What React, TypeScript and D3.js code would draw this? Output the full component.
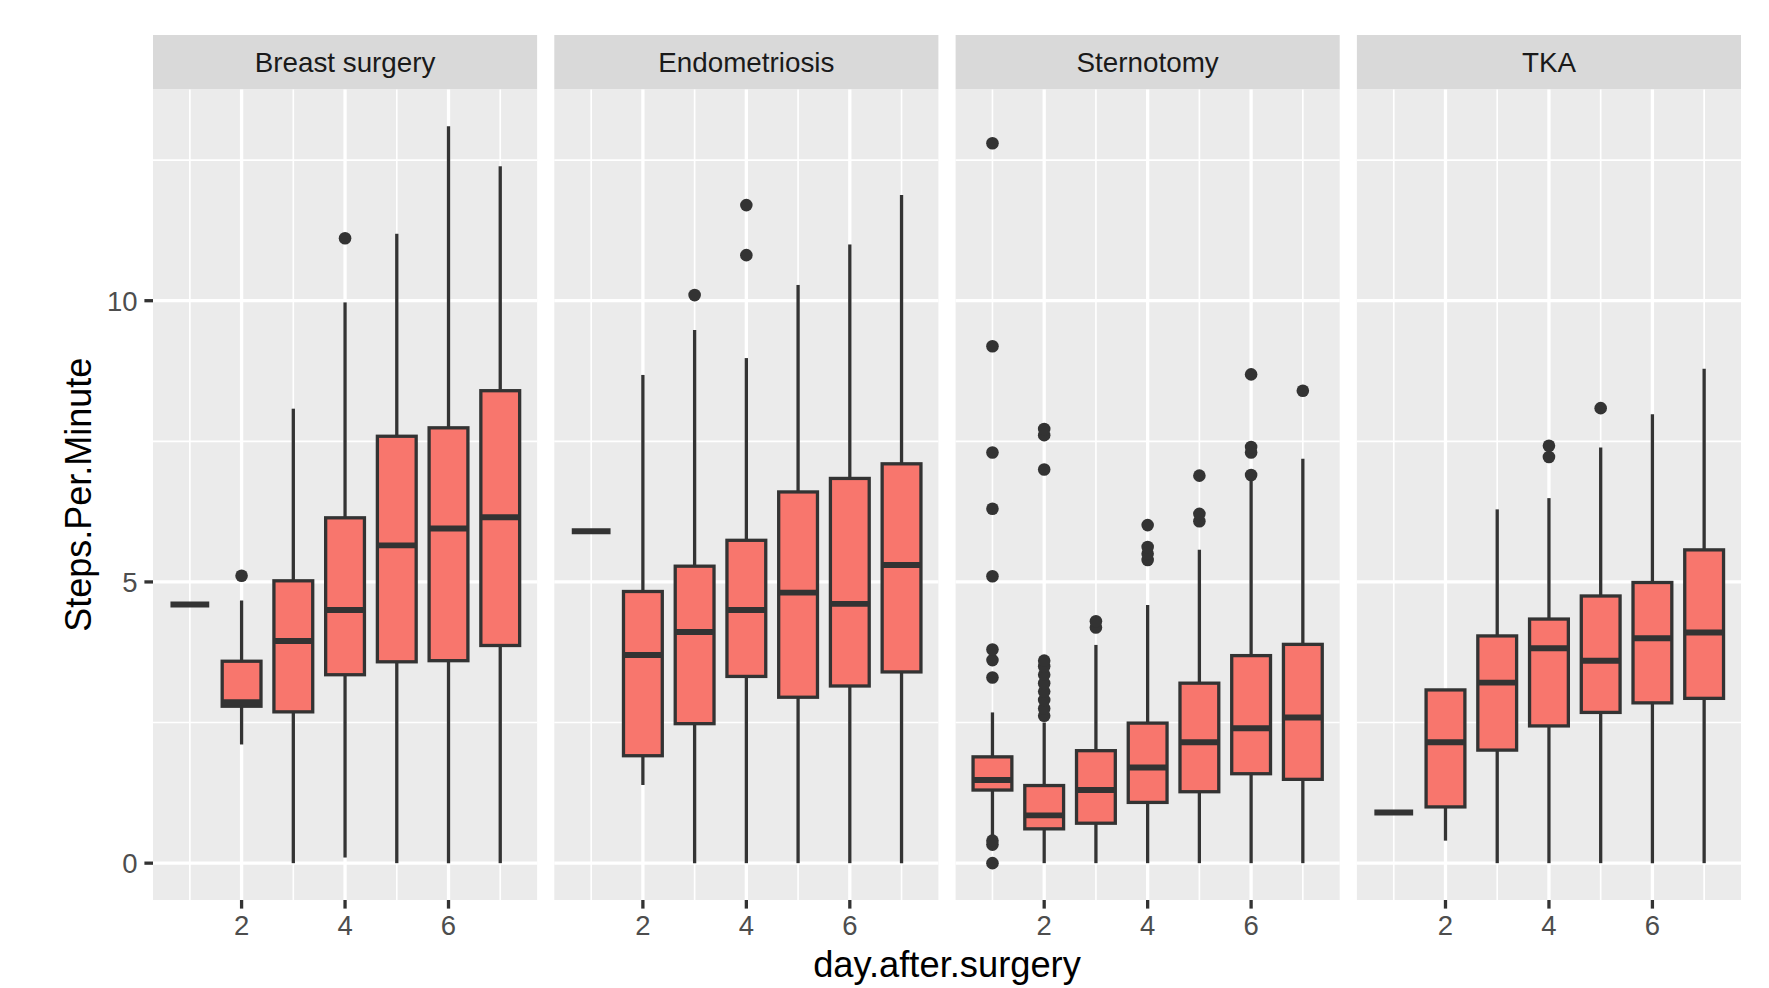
import React from 'react';
import * as d3 from 'd3';

// facet labels and x values
const surgeries = ['Breast surgery', 'Endometriosis', 'Sternotomy', 'TKA'];
const days = [1, 2, 3, 4, 5, 6, 7];

// per day: [lower whisker, Q1, median, Q3, upper whisker]
const breastStats = [
  [4.6, 4.6, 4.6, 4.6, 4.6],
  [2.11, 2.79, 2.86, 3.59, 4.67],
  [0, 2.69, 3.95, 5.02, 8.08],
  [0.1, 3.35, 4.5, 6.14, 9.97],
  [0, 3.58, 5.65, 7.59, 11.19],
  [0, 3.6, 5.95, 7.74, 13.1],
  [0, 3.87, 6.15, 8.4, 12.39],
];
const endoStats = [
  [5.9, 5.9, 5.9, 5.9, 5.9],
  [1.39, 1.91, 3.7, 4.83, 8.68],
  [0, 2.48, 4.11, 5.28, 9.48],
  [0, 3.32, 4.5, 5.74, 8.98],
  [0, 2.95, 4.81, 6.6, 10.28],
  [0, 3.15, 4.61, 6.84, 11.0],
  [0, 3.4, 5.3, 7.1, 11.88],
];
const sternStats = [
  [0.5, 1.3, 1.48, 1.89, 2.68],
  [0, 0.61, 0.85, 1.38, 2.5],
  [0, 0.71, 1.3, 2.0, 3.88],
  [0, 1.08, 1.7, 2.49, 4.59],
  [0, 1.27, 2.15, 3.2, 5.57],
  [0, 1.59, 2.4, 3.69, 6.83],
  [0, 1.49, 2.59, 3.89, 7.19],
];
const tkaStats = [
  [0.9, 0.9, 0.9, 0.9, 0.9],
  [0.4, 1.0, 2.15, 3.08, 3.08],
  [0, 2.01, 3.21, 4.04, 6.29],
  [0, 2.44, 3.82, 4.34, 6.49],
  [0, 2.68, 3.6, 4.75, 7.39],
  [0, 2.85, 4.0, 4.99, 7.98],
  [0, 2.93, 4.1, 5.57, 8.79],
];

// outliers as [day, value]
const breastOutliers = [[2, 5.11], [4, 11.11]];
const endoOutliers = [[3, 10.1], [4, 10.81], [4, 11.7]];
const sternOutliers = [
  [1, 0], [1, 0.33], [1, 0.4], [1, 3.3], [1, 3.61], [1, 3.8], [1, 5.1], [1, 6.3], [1, 7.3], [1, 9.19], [1, 12.8],
  [2, 2.62], [2, 2.75], [2, 2.9], [2, 3.05], [2, 3.2], [2, 3.35], [2, 3.5], [2, 3.6], [2, 7.0], [2, 7.61], [2, 7.72],
  [3, 4.19], [3, 4.3],
  [4, 5.39], [4, 5.5], [4, 5.62], [4, 6.01],
  [5, 6.08], [5, 6.21], [5, 6.89],
  [6, 6.9], [6, 7.3], [6, 7.4], [6, 8.69],
  [7, 8.4],
];
const tkaOutliers = [[4, 7.22], [4, 7.42], [5, 8.09]];

const yBreaks = [0, 5, 10];
const yMinor = [2.5, 7.5, 12.5];
const xBreaks = [2, 4, 6];
const xMinor = [1, 3, 5, 7];

const stats = [breastStats, endoStats, sternStats, tkaStats];
const outliers = [breastOutliers, endoOutliers, sternOutliers, tkaOutliers];

const W = 1769;
const H = 988;
const font = 'Liberation Sans, Arial, Helvetica, sans-serif';
const boxFill = '#F8766D';
const ink = '#333333';

const App = () => {
  const margin = { top: 35, left: 153, right: 28, bottom: 88 };
  const stripH = 54.5;
  const gap = 17.2;
  const panelW = (W - margin.left - margin.right - gap * 3) / surgeries.length;
  const panelTop = margin.top + stripH;
  const panelBottom = H - margin.bottom;
  const boxWidth = 0.75;

  const allY = stats.flat().flat().concat(outliers.flat().map((d) => d[1]));
  const yMin = 0;
  const yMax = d3.max(allY)!;
  const yPad = (yMax - yMin) * 0.05;
  const y = d3.scaleLinear().domain([yMin - yPad, yMax + yPad]).range([panelBottom, panelTop]);

  const xPad = (days[days.length - 1] - days[0] + boxWidth) * 0.05;
  const xDomain = [days[0] - boxWidth / 2 - xPad, days[days.length - 1] + boxWidth / 2 + xPad];

  const lw = 3.3;

  return (
    <svg
      width={W}
      height={H}
      style={{ position: 'absolute', left: 0, top: 0, background: '#fff' }}
      fontFamily={font}
    >
      {surgeries.map((name, pi) => {
        const x0 = margin.left + pi * (panelW + gap);
        const x = d3.scaleLinear().domain(xDomain).range([x0, x0 + panelW]);
        const half = (x(boxWidth) - x(0)) / 2;
        return (
          <g key={name}>
            {/* strip */}
            <rect x={x0} y={margin.top} width={panelW} height={stripH} fill="#D9D9D9" />
            <text
              x={x0 + panelW / 2}
              y={margin.top + stripH / 2}
              dy="0.36em"
              textAnchor="middle"
              fontSize={27.8}
              fill="#1A1A1A"
            >
              {name}
            </text>
            {/* panel */}
            <rect x={x0} y={panelTop} width={panelW} height={panelBottom - panelTop} fill="#EBEBEB" />
            {yMinor.map((v) => (
              <line key={'ym' + v} x1={x0} x2={x0 + panelW} y1={y(v)} y2={y(v)} stroke="#fff" strokeWidth={1.65} />
            ))}
            {xMinor.map((v) => (
              <line key={'xm' + v} x1={x(v)} x2={x(v)} y1={panelTop} y2={panelBottom} stroke="#fff" strokeWidth={1.65} />
            ))}
            {yBreaks.map((v) => (
              <line key={'yb' + v} x1={x0} x2={x0 + panelW} y1={y(v)} y2={y(v)} stroke="#fff" strokeWidth={lw} />
            ))}
            {xBreaks.map((v) => (
              <line key={'xb' + v} x1={x(v)} x2={x(v)} y1={panelTop} y2={panelBottom} stroke="#fff" strokeWidth={lw} />
            ))}
            {/* boxes */}
            {stats[pi].map((s, di) => {
              const d = days[di];
              const [lo, q1, med, q3, hi] = s;
              return (
                <g key={'b' + d}>
                  <line x1={x(d)} x2={x(d)} y1={y(q3)} y2={y(hi)} stroke={ink} strokeWidth={lw} />
                  <line x1={x(d)} x2={x(d)} y1={y(q1)} y2={y(lo)} stroke={ink} strokeWidth={lw} />
                  <rect
                    x={x(d) - half}
                    y={y(q3)}
                    width={half * 2}
                    height={y(q1) - y(q3)}
                    fill={boxFill}
                    stroke={ink}
                    strokeWidth={lw}
                  />
                  <line x1={x(d) - half} x2={x(d) + half} y1={y(med)} y2={y(med)} stroke={ink} strokeWidth={lw * 1.8} />
                </g>
              );
            })}
            {outliers[pi].map(([d, v], i) => (
              <circle key={'o' + i} cx={x(d)} cy={y(v)} r={6.3} fill={ink} />
            ))}
            {/* x axis */}
            {xBreaks.map((v) => (
              <g key={'xt' + v}>
                <line x1={x(v)} x2={x(v)} y1={panelBottom} y2={panelBottom + 8.6} stroke={ink} strokeWidth={lw} />
                <text x={x(v)} y={panelBottom + 35} textAnchor="middle" fontSize={27.5} fill="#4D4D4D">
                  {v}
                </text>
              </g>
            ))}
          </g>
        );
      })}
      {/* y axis */}
      {yBreaks.map((v) => (
        <g key={'yt' + v}>
          <line x1={margin.left - 8.6} x2={margin.left} y1={y(v)} y2={y(v)} stroke={ink} strokeWidth={lw} />
          <text x={margin.left - 15.5} y={y(v)} dy="0.36em" textAnchor="end" fontSize={27.5} fill="#4D4D4D">
            {v}
          </text>
        </g>
      ))}
      <text
        transform={`translate(91,${(panelTop + panelBottom) / 2}) rotate(-90)`}
        textAnchor="middle"
        fontSize={36}
        fill="#000"
      >
        Steps.Per.Minute
      </text>
      <text x={(margin.left + W - margin.right) / 2} y={977} textAnchor="middle" fontSize={36.3} fill="#000">
        day.after.surgery
      </text>
    </svg>
  );
};

export default App;
